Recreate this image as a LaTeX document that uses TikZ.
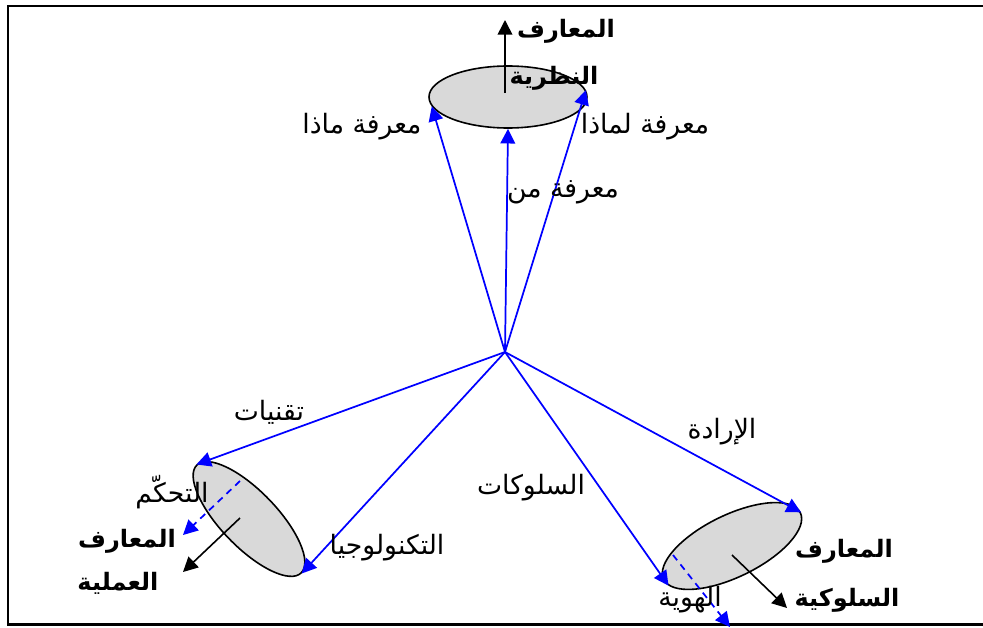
\documentclass[tikz,border=0pt]{standalone}
\usepackage{fontspec}
\usetikzlibrary{shapes.geometric,arrows.meta}
\newfontfamily\arabicfont[Script=Arabic]{DejaVu Sans}
\TeXXeTstate=1
\definecolor{diagblue}{RGB}{0,0,255}
\definecolor{diagfill}{RGB}{217,217,217}

\begin{document}
\begin{tikzpicture}[x=0.75pt,y=-0.75pt,
  lens/.style={ellipse,draw=black,line width=1.2pt,fill=diagfill,inner sep=0pt},
  link/.style={diagblue,line width=1.3pt,-{Triangle[length=11pt,width=11pt]}},
  hidden/.style={link,dash pattern=on 5pt off 4pt},
  outward/.style={black,line width=1.2pt,-{Triangle[length=11pt,width=11pt]}},
  lbl/.style={font=\arabicfont\fontsize{20}{23}\selectfont,inner sep=0pt},
  head/.style={font=\arabicfont\bfseries\fontsize{18}{21}\selectfont,inner sep=0pt}]
\useasboundingbox (0,0) rectangle (983,628);
\draw[line width=2pt] (983,6) -- (8,6) -- (8,624.5) -- (983,624.5);
% the three bodies of knowledge
\node[lens,minimum width=118.5pt,minimum height=46.5pt] (theo) at (508,97) {};
\node[lens,minimum width=112.5pt,minimum height=42pt,rotate=-46] (prac) at (249,519) {};
\node[lens,minimum width=114pt,minimum height=46.5pt,rotate=26] (behav) at (732,546) {};
% free ends
\coordinate (hub) at (505,352);
\coordinate (theoin) at (505,93);
\coordinate (theoout) at (505,20);
\coordinate (pracin) at (240,518);
\coordinate (pracout) at (183,572);
\coordinate (pracback) at (240,481);
\coordinate (pracdash) at (183,535);
\coordinate (behavin) at (732,555);
\coordinate (behavout) at (787,608);
\coordinate (behavback) at (673,555);
\coordinate (behavdash) at (730,627);
% links from the hub
\draw[link] (hub) -- (theo.187);
\draw[link] (hub) -- (theo.south);
\draw[link] (hub) -- (theo.5);
\draw[link] (hub) -- (prac.west);
\draw[link] (hub) -- (prac.east);
\draw[link] (hub) -- (behav.186);
\draw[link] (hub) -- (behav.east);
% outgoing arrows
\draw[outward] (theoin) -- (theoout);
\draw[outward] (pracin) -- (pracout);
\draw[outward] (behavin) -- (behavout);
\draw[hidden] (pracback) -- (pracdash);
\draw[hidden] (behavback) -- (behavdash);
% theoretical
\node[head] (theot1) at (566,31) {\beginR المعارف\endR};
\node[head] (theot2) at (554,78) {\beginR النظرية\endR};
\node[lbl] (what) at (362,127) {\beginR معرفة ماذا\endR};
\node[lbl] (why) at (645,127) {\beginR معرفة لماذا\endR};
\node[lbl] (who) at (563,192) {\beginR معرفة من\endR};
% practical
\node[lbl] (tech) at (269,412) {\beginR تقنيات\endR};
\node[lbl] (control) at (172,492) {\beginR التحكّم\endR};
\node[head] (pract1) at (127,541) {\beginR المعارف\endR};
\node[head] (pract2) at (118,583) {\beginR العملية\endR};
\node[lbl] (techno) at (387,548) {\beginR التكنولوجيا\endR};
% behavioural
\node[lbl] (conduct) at (531,488) {\beginR السلوكات\endR};
\node[lbl] (will) at (722,432) {\beginR الإرادة\endR};
\node[head] (behavt1) at (844,551) {\beginR المعارف\endR};
\node[head] (behavt2) at (847,600) {\beginR السلوكية\endR};
\node[lbl] (ident) at (690,600) {\beginR الهوية\endR};
\end{tikzpicture}
\end{document}
